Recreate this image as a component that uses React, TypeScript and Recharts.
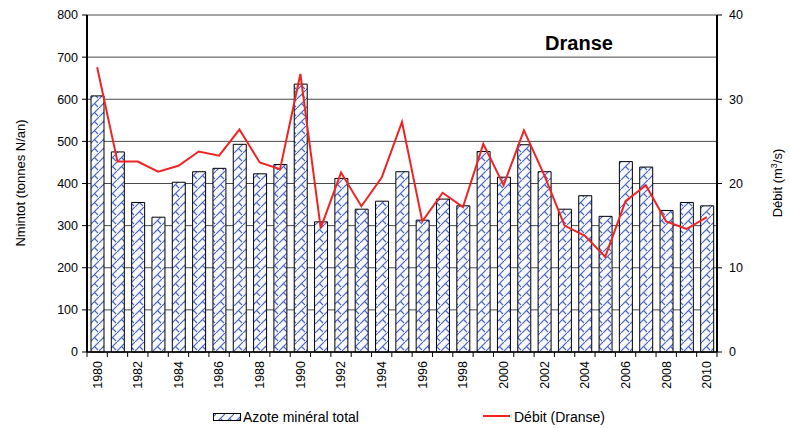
import { ComposedChart, Bar, Line, XAxis, YAxis, CartesianGrid } from 'recharts';

const YEARS = [
  '1980', '1981', '1982', '1983', '1984', '1985', '1986', '1987', '1988', '1989',
  '1990', '1991', '1992', '1993', '1994', '1995', '1996', '1997', '1998', '1999',
  '2000', '2001', '2002', '2003', '2004', '2005', '2006', '2007', '2008', '2009', '2010',
];

// Nmintot (tonnes N/an)
const AZOTE = [
  608, 475, 355, 320, 403, 428, 436, 493, 423, 445,
  636, 309, 412, 339, 358, 428, 313, 363, 347, 476,
  415, 492, 428, 339, 371, 322, 452, 439, 336, 355, 347,
];

// Débit (m3/s)
const DEBIT = [
  33.8, 22.6, 22.6, 21.4, 22.1, 23.8, 23.3, 26.4, 22.5, 21.7,
  33.0, 14.7, 21.3, 17.3, 20.7, 27.3, 15.5, 18.9, 17.2, 24.7,
  19.8, 26.3, 21.0, 15.0, 13.8, 11.3, 17.9, 19.8, 15.5, 14.6, 16.0,
];

const LEFT_TICKS = [0, 100, 200, 300, 400, 500, 600, 700, 800];
const RIGHT_TICKS = [0, 10, 20, 30, 40];

const data = YEARS.map((year, i) => ({ year, azote: AZOTE[i], debit: DEBIT[i] }));

const W = 790;
const H = 428;
const PLOT_LEFT = 87;
const PLOT_RIGHT = 717;
const BAND = (PLOT_RIGHT - PLOT_LEFT) / YEARS.length;
const FONT = 'Liberation Sans, Arial, sans-serif';
const RED = '#ee2424';
const BLUE = '#4664c4';

function YearTick(props: any) {
  const { x, y, payload, index } = props;
  const axisY = y - 8;
  const half = BAND / 2;
  return (
    <g>
      <line x1={x - half} x2={x - half} y1={axisY} y2={axisY + 5} stroke="#000" />
      {index === YEARS.length - 1 && (
        <line x1={x + half} x2={x + half} y1={axisY} y2={axisY + 5} stroke="#000" />
      )}
      {index % 2 === 0 && (
        <text
          transform={`translate(${x},${axisY + 9}) rotate(-90)`}
          textAnchor="end"
          dy="0.35em"
          fontSize={12.5}
          fontFamily={FONT}
          fill="#000"
        >
          {payload.value}
        </text>
      )}
    </g>
  );
}

// blue diagonal weave used by the Excel bars
function Weave({ id }: { id: string }) {
  return (
    <pattern id={id} width="9" height="9" patternUnits="userSpaceOnUse">
      <rect width="9" height="9" fill="#f8f9fd" />
      <path d="M-1,10 L10,-1" stroke={BLUE} strokeWidth="1.2" />
      <path d="M4.5,4.5 L8,8" stroke={BLUE} strokeWidth="1.1" />
    </pattern>
  );
}

export default function App() {
  return (
    <div style={{ position: 'absolute', left: 0, top: 0, width: W, height: H, background: '#fff' }}>
      <ComposedChart
        width={W}
        height={H}
        data={data}
        margin={{ top: 15, right: 23, bottom: 31, left: 30 }}
        barSize={13}
      >
        <defs>
          <Weave id="weave" />
        </defs>
        <CartesianGrid yAxisId="left" vertical={false} stroke="#4a4a4a" strokeWidth={1} />
        <XAxis
          dataKey="year"
          interval={0}
          height={45}
          tickLine={false}
          tickSize={5}
          tickMargin={3}
          tick={<YearTick />}
          axisLine={{ stroke: '#000', strokeWidth: 1.5 }}
        />
        <YAxis
          yAxisId="left"
          width={57}
          domain={[0, 800]}
          ticks={LEFT_TICKS}
          interval={0}
          tickSize={5}
          tickMargin={4}
          tick={{ fontSize: 12.5, fill: '#000', fontFamily: FONT }}
          tickLine={{ stroke: '#000' }}
          axisLine={{ stroke: '#000', strokeWidth: 2 }}
        />
        <YAxis
          yAxisId="right"
          orientation="right"
          width={50}
          domain={[0, 40]}
          ticks={RIGHT_TICKS}
          interval={0}
          tickSize={5}
          tickMargin={7}
          tick={{ fontSize: 12.5, fill: '#000', fontFamily: FONT }}
          tickLine={{ stroke: '#000' }}
          axisLine={{ stroke: '#000', strokeWidth: 2 }}
        />
        <Bar
          yAxisId="left"
          dataKey="azote"
          fill="url(#weave)"
          stroke="#000"
          strokeWidth={1}
          isAnimationActive={false}
        />
        <Line
          yAxisId="right"
          type="linear"
          dataKey="debit"
          stroke={RED}
          strokeWidth={2}
          dot={false}
          activeDot={false}
          isAnimationActive={false}
        />
      </ComposedChart>

      <svg
        width={W}
        height={H}
        style={{ position: 'absolute', left: 0, top: 0, pointerEvents: 'none' }}
        fontFamily={FONT}
      >
        <defs>
          <Weave id="weave-legend" />
        </defs>
        <text x={579} y={50} textAnchor="middle" fontSize={20} fontWeight="bold" fill="#000">
          Dranse
        </text>
        <text
          transform="translate(20,183) rotate(-90)"
          textAnchor="middle"
          dy="0.35em"
          fontSize={13}
          fill="#000"
        >
          Nmintot (tonnes N/an)
        </text>
        <text
          transform="translate(777,183) rotate(-90)"
          textAnchor="middle"
          dy="0.35em"
          fontSize={13}
          fill="#000"
        >
          Débit (m<tspan dy="-5" fontSize={9}>3</tspan><tspan dy="5">/s)</tspan>
        </text>

        <rect x={213.5} y={413.5} width={27} height={7} fill="url(#weave-legend)" stroke="#000" />
        <text x={243} y={422} fontSize={14} fill="#000">
          Azote minéral total
        </text>
        <line x1={483} x2={510} y1={416} y2={416} stroke={RED} strokeWidth={2} />
        <text x={514} y={422} fontSize={14} fill="#000">
          Débit (Dranse)
        </text>
      </svg>
    </div>
  );
}
